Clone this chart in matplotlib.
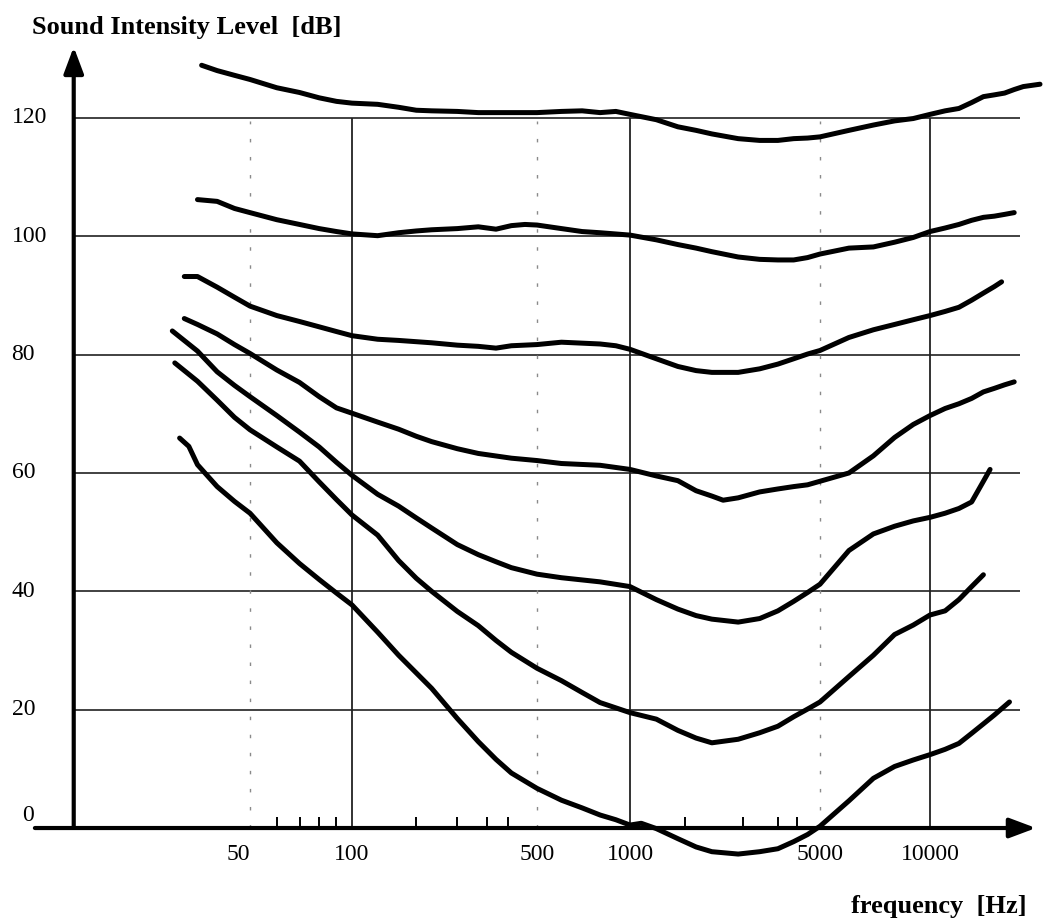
import numpy as np
import matplotlib
matplotlib.use("Agg")
import matplotlib.pyplot as plt

plt.rcParams['font.family'] = ['Liberation Serif', 'DejaVu Serif']

# equal loudness curves (frequency in Hz, level in dB)
f_120 = [36, 40, 45, 50, 60, 70, 80, 90, 100, 125, 150, 175, 200, 250, 300, 400, 500, 600, 700, 800, 900,
         1000, 1250, 1500, 1750, 2000, 2500, 3000, 3500, 4000, 4500, 5000, 6000, 7000, 8000, 9000,
         10000, 11000, 12000, 13000, 14000, 15000, 16000, 17000, 18000, 20000]
db_120 = [128.9, 128.0, 127.2, 126.5, 125.1, 124.3, 123.4, 122.8, 122.5, 122.3, 121.8, 121.3, 121.2, 121.1,
          120.9, 120.9, 120.9, 121.1, 121.2, 120.9, 121.1, 120.6, 119.7, 118.5, 117.9, 117.3, 116.5, 116.2,
          116.2, 116.5, 116.6, 116.8, 117.9, 118.8, 119.5, 119.9, 120.6, 121.2, 121.6, 122.6, 123.6, 123.9,
          124.2, 124.8, 125.3, 125.7]

f_100 = [35, 40, 45, 50, 60, 70, 80, 90, 100, 125, 150, 175, 200, 250, 300, 350, 400, 450, 500, 600, 700, 800,
         1000, 1250, 1500, 1750, 2000, 2500, 3000, 3500, 4000, 4500, 5000, 6000, 7000, 8000, 9000,
         10000, 11000, 12000, 13000, 14000, 15000, 16000, 17000]
db_100 = [106.2, 105.9, 104.7, 104.0, 102.8, 102.0, 101.3, 100.8, 100.4, 100.1, 100.6, 100.9, 101.1, 101.3,
          101.6, 101.2, 101.8, 102.0, 101.9, 101.3, 100.8, 100.6, 100.2, 99.4, 98.6, 98.0, 97.4, 96.5, 96.1,
          96.0, 96.0, 96.4, 97.0, 98.0, 98.2, 99.0, 99.8, 100.8, 101.4, 102.0, 102.7, 103.2, 103.4, 103.7, 104.0]

f_80 = [32, 35, 40, 45, 50, 60, 70, 80, 90, 100, 125, 150, 200, 250, 300, 350, 400, 500, 600, 800, 900,
        1000, 1250, 1500, 1750, 2000, 2500, 3000, 3500, 4000, 4500, 5000, 6000, 7000, 8000, 9000,
        10000, 11000, 12000, 13000, 14000, 15000, 15700]
db_80 = [93.2, 93.2, 91.4, 89.7, 88.2, 86.6, 85.6, 84.7, 83.9, 83.2, 82.6, 82.4, 82.0, 81.6, 81.4, 81.1, 81.5,
         81.7, 82.1, 81.8, 81.5, 80.9, 79.3, 78.0, 77.3, 77.0, 77.0, 77.6, 78.4, 79.3, 80.1, 80.7, 82.9, 84.2,
         85.1, 85.9, 86.6, 87.3, 88.0, 89.2, 90.4, 91.5, 92.3]

f_60 = [32, 35, 40, 45, 50, 60, 70, 80, 90, 100, 125, 150, 175, 200, 250, 300, 400, 500, 600, 800,
        1000, 1250, 1500, 1750, 2000, 2200, 2500, 3000, 3500, 4000, 4500, 5000, 6000, 7000, 8000, 9000,
        10000, 11000, 12000, 13000, 14000, 15000, 16000, 17000]
db_60 = [86.1, 85.1, 83.5, 81.7, 80.2, 77.4, 75.3, 72.9, 71.0, 70.1, 68.6, 67.4, 66.2, 65.3, 64.1, 63.3, 62.5,
         62.1, 61.6, 61.3, 60.6, 59.5, 58.7, 57.0, 56.1, 55.4, 55.8, 56.8, 57.3, 57.7, 58.0, 58.6, 60.0, 62.9,
         66.0, 68.2, 69.7, 70.9, 71.7, 72.6, 73.7, 74.3, 74.9, 75.4]

f_40 = [29.5, 35, 40, 45, 50, 60, 70, 80, 90, 100, 125, 150, 175, 200, 250, 300, 350, 400, 500, 600, 800,
        1000, 1250, 1500, 1750, 2000, 2500, 3000, 3500, 4000, 4500, 5000, 6000, 7000, 8000, 9000,
        10000, 11000, 12000, 13000, 14000, 14600]
db_40 = [84.0, 80.6, 77.1, 74.8, 72.9, 69.7, 66.9, 64.4, 61.8, 59.6, 56.4, 54.4, 52.4, 50.7, 47.9, 46.2, 45.0,
         44.0, 42.9, 42.3, 41.6, 40.8, 38.6, 37.0, 35.9, 35.3, 34.8, 35.4, 36.7, 38.3, 39.8, 41.2, 46.9, 49.7,
         51.0, 51.9, 52.5, 53.2, 54.0, 55.1, 58.6, 60.6]

f_20 = [30, 35, 40, 45, 50, 60, 70, 80, 90, 100, 125, 150, 175, 200, 250, 300, 350, 400, 500, 600, 700, 800,
        1000, 1250, 1500, 1750, 2000, 2500, 3000, 3500, 4000, 4500, 5000, 6000, 7000, 8000, 9000,
        10000, 11000, 12000, 13000, 14000]
db_20 = [78.6, 75.5, 72.3, 69.4, 67.3, 64.4, 62.0, 58.5, 55.5, 52.9, 49.5, 45.2, 42.2, 40.0, 36.6, 34.2, 31.7,
         29.7, 27.0, 24.9, 22.9, 21.2, 19.5, 18.4, 16.5, 15.2, 14.4, 15.0, 16.1, 17.2, 18.8, 20.1, 21.3, 25.6,
         29.2, 32.7, 34.3, 36.0, 36.7, 38.6, 40.8, 42.8]

f_0 = [31, 33, 35, 40, 45, 50, 60, 70, 80, 90, 100, 125, 150, 175, 200, 250, 300, 350, 400, 500, 600, 700, 800,
       900, 1000, 1100, 1250, 1500, 1750, 2000, 2500, 3000, 3500, 4000, 4500, 5000, 6000, 7000, 8000, 9000,
       10000, 11000, 12000, 13000, 14000, 15000, 16500]
db_0 = [65.9, 64.5, 61.4, 57.7, 55.2, 53.2, 48.2, 44.7, 42.0, 39.7, 37.7, 33.1, 29.2, 26.2, 23.6, 18.5, 14.6,
        11.6, 9.3, 6.7, 4.7, 3.4, 2.2, 1.4, 0.5, 0.8, -0.1, -1.8, -3.2, -4.0, -4.4, -4.0, -3.5, -2.3, -1.1, 0.3,
        4.6, 8.4, 10.4, 11.5, 12.4, 13.3, 14.3, 16.0, 17.6, 19.1, 21.3]

curves = [(f_120, db_120), (f_100, db_100), (f_80, db_80), (f_60, db_60),
          (f_40, db_40), (f_20, db_20), (f_0, db_0)]

y_ticks = [0, 20, 40, 60, 80, 100, 120]
x_labels = [50, 100, 500, 1000, 5000, 10000]
solid_f = [100, 1000, 10000]
dotted_f = [50, 500, 5000]
minor_f = [60, 70, 80, 90, 175, 250, 325, 390, 1600, 2600, 3500, 4100]

# the hand drawn frequency axis is not evenly logarithmic: piecewise log scale
KNOT_LOG = np.array([0.0, np.log10(50), 2.0, np.log10(500), 3.0, np.log10(5000), 4.0, 6.0])
KNOT_U = np.array([250 - np.log10(50) * 339, 250, 352, 537, 630, 820, 930, 930 + 2 * 365.4])


def fwd(f):
    f = np.asarray(f, dtype=float)
    with np.errstate(divide='ignore', invalid='ignore'):
        lg = np.log10(np.where(f > 0, f, 1e-300))
    return np.interp(lg, KNOT_LOG, KNOT_U)


def inv(u):
    u = np.asarray(u, dtype=float)
    return 10 ** np.interp(u, KNOT_U, KNOT_LOG)


fig = plt.figure(figsize=(10.43, 9.24), dpi=100)
ax = fig.add_axes([0, 0, 1, 1])
ax.set_xscale('function', functions=(fwd, inv))
ax.set_xlim(inv(0), inv(1043))
ax.set_ylim(-16.22, 139.93)
ax.axis('off')

f_yaxis = 15.1
f_grid_end = 17600

# grid
ax.hlines(y_ticks[1:], f_yaxis, f_grid_end, color='#333333', lw=1.3, zorder=1)
ax.vlines(solid_f, 0, 120, color='#222222', lw=1.3, zorder=1)
ax.vlines(dotted_f, 0, 119.5, color='#8a8a8a', lw=1.0, linestyles=[(0, (2.5, 10.5))], zorder=1)
ax.vlines(minor_f, 0, 1.8, color='black', lw=1.4, zorder=2)

# axes with arrow heads
arrow = dict(arrowstyle='-|>,head_length=1.6,head_width=0.6', mutation_scale=10,
             lw=3, color='black', shrinkA=0, shrinkB=0)
ax.annotate('', xy=(19500, 0), xytext=(11.6, 0), arrowprops=arrow, zorder=3)
ax.annotate('', xy=(f_yaxis, 132.0), xytext=(f_yaxis, 0), arrowprops=arrow, zorder=3)

for f, db in curves:
    ax.plot(f, db, color='black', lw=3.6, solid_capstyle='round', solid_joinstyle='round', zorder=4)

# labels
for v in y_ticks:
    if v == 0:
        ax.text(10.6, 2.2, '0', fontsize=17, ha='left', va='center')
    else:
        ax.text(9.9, v, str(v), fontsize=17, ha='left', va='center')
for v in x_labels:
    ax.text(v, -4.5, str(v), fontsize=17, ha='right' if v == 50 else 'center', va='center')

ax.text(11.4, 135.2, 'Sound Intensity Level  [dB]', fontsize=19, fontweight='bold', ha='left', va='center')
ax.text(18400, -13.2, 'frequency  [Hz]', fontsize=19, fontweight='bold', ha='right', va='center')

fig.savefig('out.png', dpi=100)
